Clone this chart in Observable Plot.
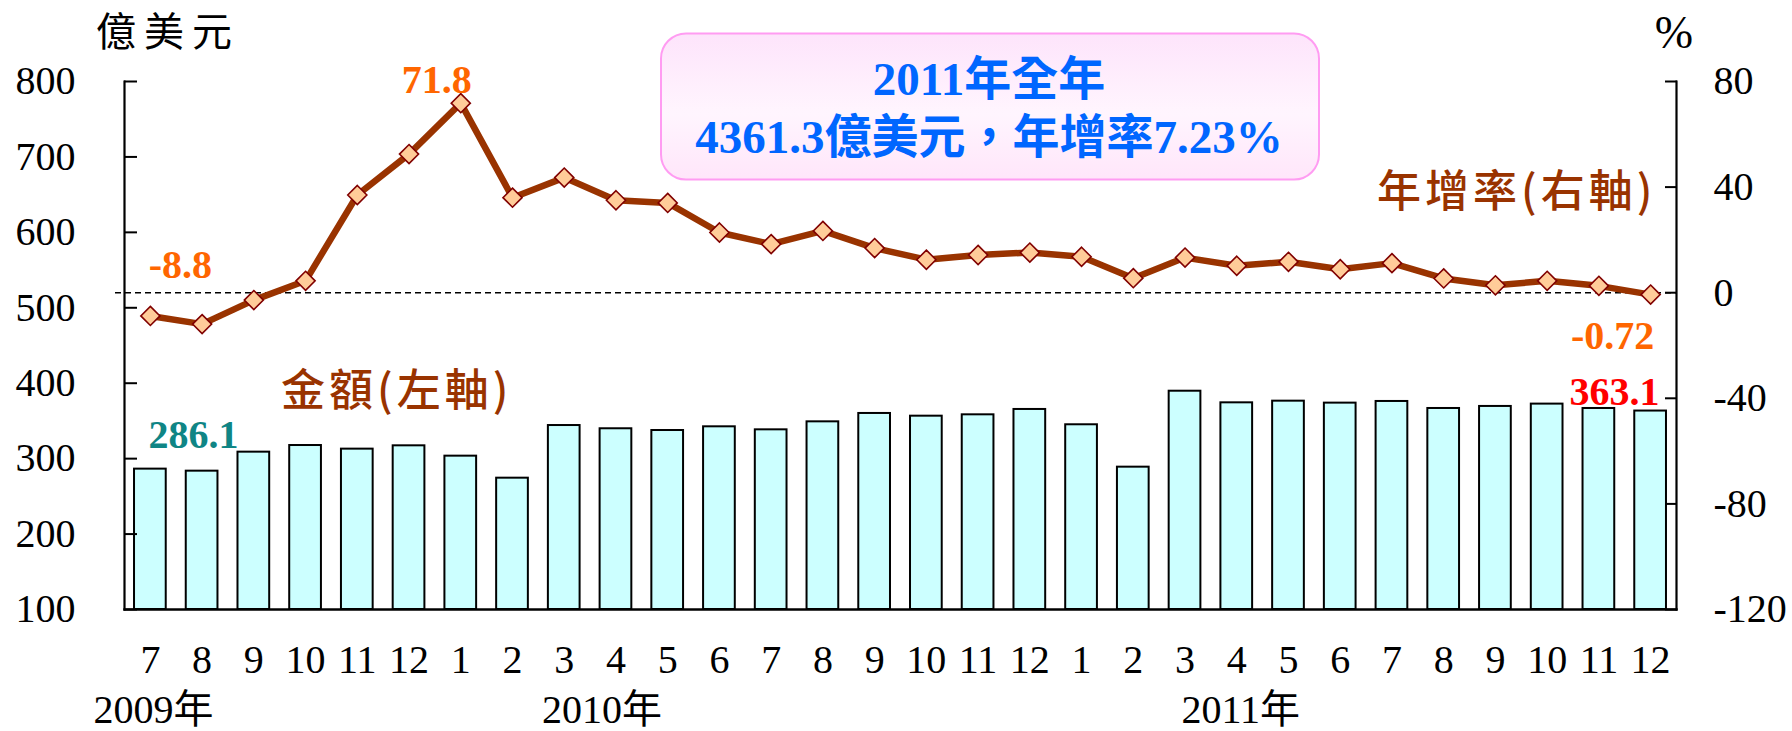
<!DOCTYPE html>
<html>
<head>
<meta charset="utf-8">
<script src="https://cdn.jsdelivr.net/npm/d3@7"></script>
<script src="https://cdn.jsdelivr.net/npm/@observablehq/plot@0.6"></script>
<style>
  html, body { margin: 0; padding: 0; background: #fff; }
  #chart svg { display: block; }
</style>
</head>
<body>
<div id="chart"></div>
<script>
// ---- Data ----
const months = [
  "2009-07","2009-08","2009-09","2009-10","2009-11","2009-12",
  "2010-01","2010-02","2010-03","2010-04","2010-05","2010-06",
  "2010-07","2010-08","2010-09","2010-10","2010-11","2010-12",
  "2011-01","2011-02","2011-03","2011-04","2011-05","2011-06",
  "2011-07","2011-08","2011-09","2011-10","2011-11","2011-12"
];
const monthLabels = ["7","8","9","10","11","12","1","2","3","4","5","6","7","8","9","10","11","12","1","2","3","4","5","6","7","8","9","10","11","12"];
// 金額 (億美元, left axis)
const amounts = [286.1, 283.4, 308.6, 317.4, 312.6, 317.0, 303.3, 274.1, 343.9, 339.6, 337.3, 342.2,
                 338.2, 348.8, 359.9, 356.3, 358.1, 365.2, 344.9, 288.7, 389.4, 374.0, 376.2, 373.6,
                 375.8, 366.5, 369.2, 372.3, 366.5, 363.1];
// 年增率 (%, right axis)
const growth = [-8.8, -11.9, -2.8, 4.5, 37.0, 52.5, 71.8, 36.0, 43.6, 35.0, 34.0, 22.8,
                18.4, 23.4, 16.9, 12.5, 14.3, 15.2, 13.6, 5.5, 13.3, 10.2, 11.7, 8.9,
                11.2, 5.4, 2.8, 4.5, 2.6, -0.72];
const leftTicks = [100, 200, 300, 400, 500, 600, 700, 800];
const rightTicks = [-120, -80, -40, 0, 40, 80];
const yearLabels = ["2009年", "2010年", "2011年"];
const yearLabelMonths = ["2009-07", "2010-04", "2011-04"];
const boxLines = ["2011年全年", "4361.3億美元，年增率7.23%"];
const leftUnit = "億美元";
const rightUnit = "%";
const amountTitle = "金額(左軸)";
const growthTitle = "年增率(右軸)";

// map right-axis values onto left-axis domain
const toLeft = d3.scaleLinear([-120, 80], [100, 800]);
const rows = months.map((m, i) => ({m, amount: amounts[i], growth: growth[i], g: toLeft(growth[i])}));

const serif = "'Liberation Serif','Times New Roman','Noto Sans CJK TC',serif";
const cjk = "'Noto Sans CJK TC','Noto Sans CJK SC',sans-serif";
const fmtNum = v => String(v);

const pick = idx => [rows[idx]];
const last = rows.length - 1;

const plot = Plot.plot({
  width: 1792,
  height: 731,
  marginLeft: 124,
  marginRight: 116,
  marginTop: 81,
  marginBottom: 122,
  style: {fontFamily: serif, fontSize: "40px", color: "#000", background: "#fff", overflow: "visible"},
  x: {type: "band", domain: months, padding: 0.387, align: 0.5, round: false, range: [114, 1686]},
  y: {domain: [100, 800]},
  marks: [
    Plot.barY(rows, {x: "m", y1: 100, y2: "amount", fill: "#ccffff", stroke: "#000", strokeWidth: 2}),
    Plot.ruleY([toLeft(0)], {stroke: "#000", strokeWidth: 1.6, strokeDasharray: "6,4", insetLeft: -9}),
    Plot.line(rows, {x: "m", y: "g", stroke: "#993300", strokeWidth: 6.5, strokeLinejoin: "round"}),
    Plot.dot(rows, {x: "m", y: "g", symbol: "diamond2", r: 8.6, fill: "#ffcc99", stroke: "#800000", strokeWidth: 1.6}),
    Plot.frame({anchor: "left", stroke: "#000", strokeWidth: 2.2}),
    Plot.frame({anchor: "right", stroke: "#000", strokeWidth: 2.2}),
    Plot.frame({anchor: "bottom", stroke: "#000", strokeWidth: 2.4}),
    Plot.axisY(leftTicks, {anchor: "left", tickSize: -13, tickPadding: 62, strokeWidth: 2, fontSize: 40, tickFormat: fmtNum, label: null}),
    Plot.axisY(rightTicks.map(toLeft), {anchor: "right", tickSize: -12, tickPadding: 49, strokeWidth: 2, fontSize: 40,
      tickFormat: v => fmtNum(Math.round(toLeft.invert(v))), label: null}),
    Plot.axisX({tickSize: 0, tickPadding: 35, fontSize: 40, label: null,
      tickFormat: m => monthLabels[months.indexOf(m)]}),
    // year labels
    Plot.text([yearLabels[0]], {x: () => yearLabelMonths[0], frameAnchor: "bottom", dy: 101, dx: 3, fontSize: 40, lineAnchor: "middle"}),
    Plot.text([yearLabels[1]], {x: () => yearLabelMonths[1], frameAnchor: "bottom", dy: 101, dx: -14, fontSize: 40, lineAnchor: "middle"}),
    Plot.text([yearLabels[2]], {x: () => yearLabelMonths[2], frameAnchor: "bottom", dy: 101, dx: 4, fontSize: 40, lineAnchor: "middle"}),
    // value labels
    Plot.text(pick(0), {x: "m", y: "g", text: d => fmtNum(d.growth), dx: 30, dy: -51, fill: "#ff6600", fontWeight: "bold", fontSize: 40, lineAnchor: "middle"}),
    Plot.text(pick(6), {x: "m", y: "g", text: d => fmtNum(d.growth), dx: -24, dy: -23, fill: "#ff6600", fontWeight: "bold", fontSize: 40, lineAnchor: "middle"}),
    Plot.text(pick(last), {x: "m", y: "g", text: d => fmtNum(d.growth), dx: -38, dy: 41.5, fill: "#ff6600", fontWeight: "bold", fontSize: 40, lineAnchor: "middle"}),
    Plot.text(pick(0), {x: "m", y: "amount", text: d => d.amount.toFixed(1), dx: 43, dy: -34.4, fill: "#0f8585", fontWeight: "bold", fontSize: 40, lineAnchor: "middle"}),
    Plot.text(pick(last), {x: "m", y: "amount", text: d => d.amount.toFixed(1), dx: -36, dy: -18.4, fill: "#ff0000", fontWeight: "bold", fontSize: 40, lineAnchor: "middle"})
  ]
});

document.getElementById("chart").appendChild(plot);

// ---- Annotations (titles, box) ----
const svg = d3.select(plot);
const defs = svg.append("defs");
const grad = defs.append("linearGradient").attr("id", "boxgrad").attr("x1", 0).attr("y1", 0).attr("x2", 0).attr("y2", 1);
grad.append("stop").attr("offset", "0%").attr("stop-color", "#fde4fb");
grad.append("stop").attr("offset", "55%").attr("stop-color", "#fff5fe");
grad.append("stop").attr("offset", "100%").attr("stop-color", "#ffe6fa");

const ann = svg.append("g").attr("text-anchor", "start");
ann.append("rect")
  .attr("x", 661).attr("y", 33.5).attr("width", 658).attr("height", 146)
  .attr("rx", 25).attr("ry", 25)
  .attr("fill", "url(#boxgrad)").attr("stroke", "#ff9cf2").attr("stroke-width", 2);

ann.append("text")
  .attr("x", 989).attr("y", 95).attr("text-anchor", "middle")
  .attr("fill", "#0066ff").attr("font-weight", "bold").attr("font-size", 47)
  .attr("font-family", serif).text(boxLines[0]);
ann.append("text")
  .attr("x", 989).attr("y", 153).attr("text-anchor", "middle")
  .attr("fill", "#0066ff").attr("font-weight", "bold").attr("font-size", 47)
  .attr("font-family", serif).text(boxLines[1]);

ann.append("text")
  .attr("x", 96).attr("y", 46).attr("text-anchor", "start").attr("fill", "#000").attr("font-size", 40)
  .attr("letter-spacing", 8).attr("font-family", cjk).text(leftUnit);
ann.append("text")
  .attr("x", 1674).attr("y", 48).attr("text-anchor", "middle").attr("fill", "#000").attr("font-size", 46)
  .attr("font-family", serif).text(rightUnit);

ann.append("text")
  .attr("x", 281).attr("y", 406).attr("text-anchor", "start").attr("fill", "#993300").attr("font-size", 44).attr("font-weight", 500)
  .attr("letter-spacing", 4).attr("font-family", cjk).text(amountTitle);
ann.append("text")
  .attr("x", 1377).attr("y", 207).attr("text-anchor", "start").attr("fill", "#993300").attr("font-size", 44).attr("font-weight", 500)
  .attr("letter-spacing", 4).attr("font-family", cjk).text(growthTitle);
</script>
</body>
</html>
